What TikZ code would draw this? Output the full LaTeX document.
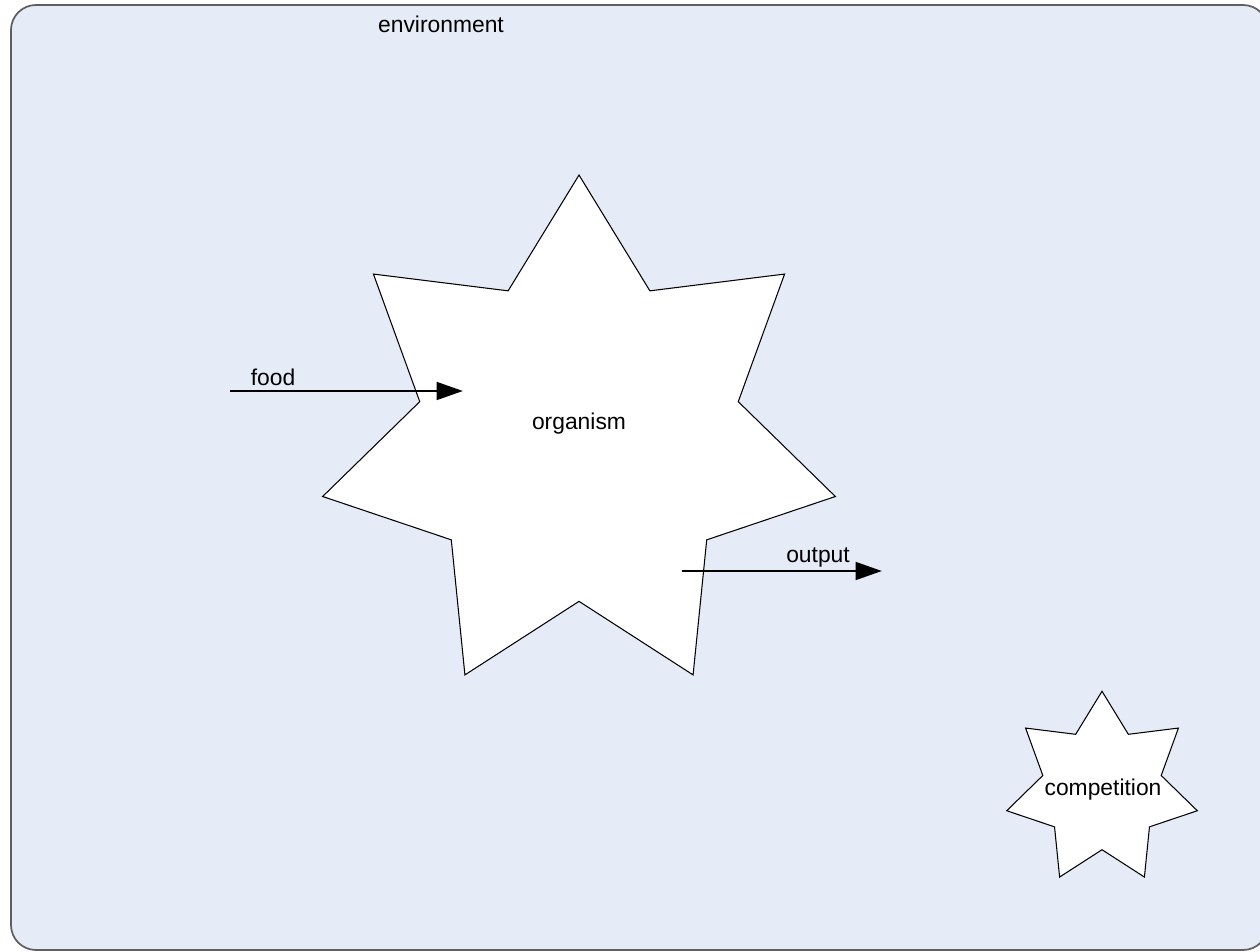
\documentclass[tikz,border=0pt]{standalone}
\usepackage{fontspec}
\setmainfont{Liberation Sans}
\usepackage{tikz}
\usetikzlibrary{shapes.geometric,arrows.meta,positioning}
\definecolor{envfill}{RGB}{230,236,247}
\definecolor{envline}{RGB}{95,95,95}

\begin{document}
\begin{tikzpicture}[x=0.02cm,y=-0.02cm,
    every node/.style={font=\fontsize{13}{15}\selectfont},
    starbox/.style={draw=black,fill=white,star,star points=7,
      star point ratio=1.61,inner sep=0pt,line width=0.6pt},
    flow/.style={line width=1.7pt,-{Triangle[length=15pt,width=10pt]}}]
  \useasboundingbox (0,0) rectangle (1260,952);
  \begin{scope}
    \clip (0,0) rectangle (1260,952);
    \draw[envline,fill=envfill,line width=1pt,rounded corners=0.5cm]
      (11,5) rectangle (1268,950);
  \end{scope}
  \node (env) at (441,24){environment};

  \node[starbox,minimum size=10.52cm] (org) at (579,438){};
  \node (orglabel) at (579,424){organism};
  \node[starbox,minimum size=3.91cm] (comp) at (1102,789){};
  \node (complabel) at (1103,790){competition};

  \coordinate (foodstart) at (230,391);
  \coordinate (foodend) at (463,391);
  \draw[flow] (foodstart) -- (foodend);
  \node (food) at (273,377){food};

  \coordinate (outstart) at (682,571);
  \coordinate (outend) at (882,571);
  \draw[flow] (outstart) -- (outend);
  \node (output) at (818,557){output};
\end{tikzpicture}
\end{document}
